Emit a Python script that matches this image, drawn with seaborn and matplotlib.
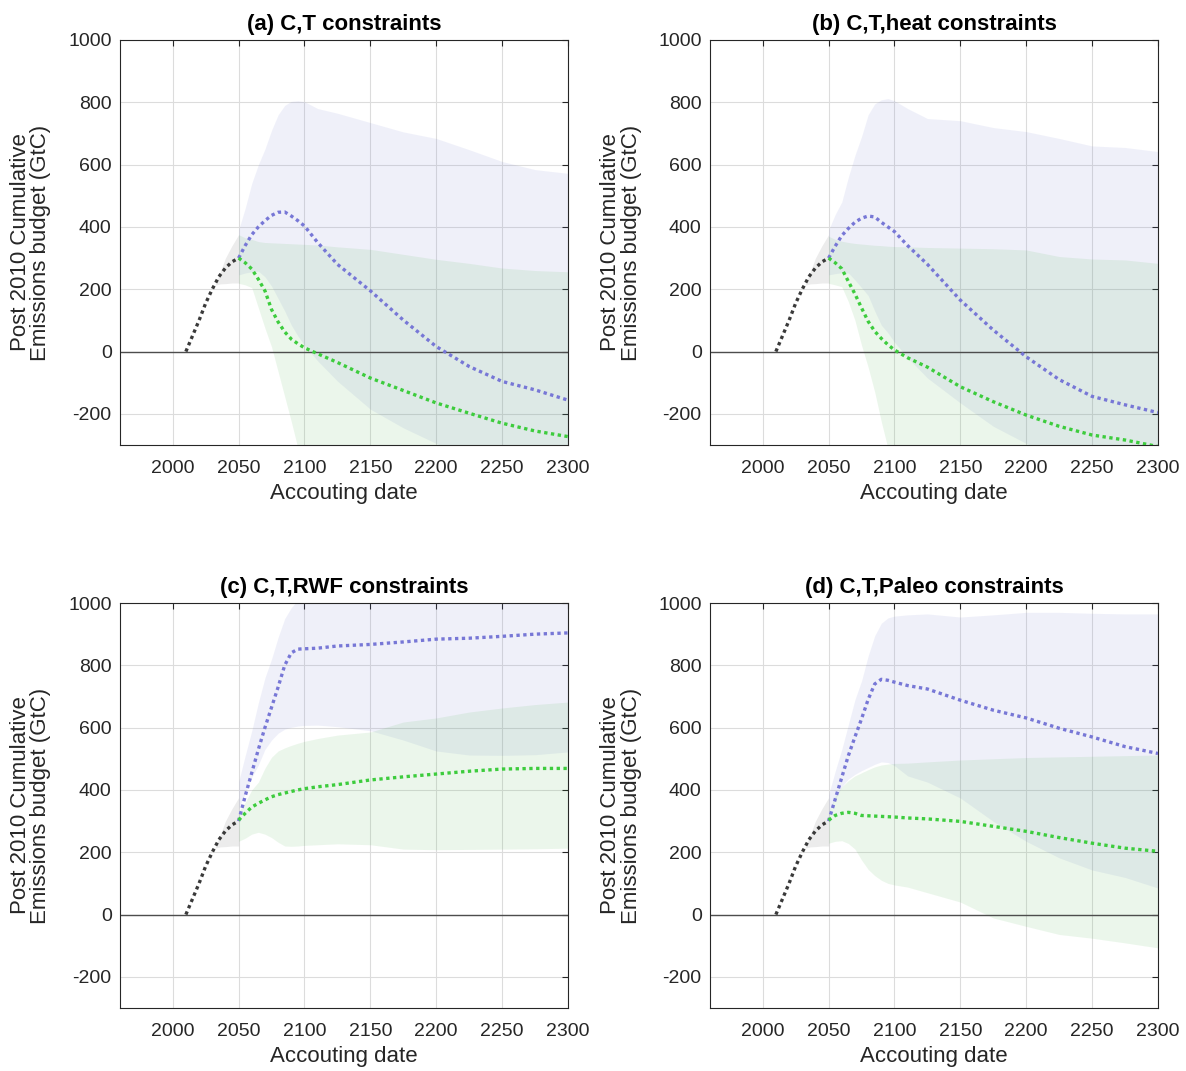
import numpy as np
import pandas as pd
import matplotlib
matplotlib.use("Agg")
import matplotlib.pyplot as plt
import seaborn as sns

# ---------------- data ----------------
hist_years = [2010, 2015, 2020, 2025, 2030, 2035, 2040, 2045, 2050]
hist_vals = [0, 50, 100, 155, 200, 240, 268, 288, 300]

gray_years = [2032, 2036, 2040, 2045, 2050]
gray_lo = [213, 217, 218, 220, 220]
gray_hi = [213, 255, 300, 340, 375]

years = [2050, 2055, 2060, 2065, 2070, 2075, 2080, 2085, 2090, 2095, 2100,
         2110, 2125, 2150, 2175, 2200, 2225, 2250, 2275, 2300]

titles = ["(a) C,T constraints", "(b) C,T,heat constraints",
          "(c) C,T,RWF constraints", "(d) C,T,Paleo constraints"]

# panel (a)
a_blue = [300, 340, 375, 400, 420, 437, 447, 448, 435, 420, 403, 350, 280, 195, 101, 16, -48, -96, -123, -156]
a_blue_hi = [390, 460, 540, 600, 650, 710, 760, 790, 803, 805, 802, 780, 765, 735, 705, 684, 648, 610, 584, 572]
a_blue_lo = [246, 252, 256, 258, 240, 210, 170, 130, 85, 50, 20, -30, -95, -185, -245, -295, -340, -380, -410, -440]
a_green = [300, 285, 265, 232, 195, 135, 95, 63, 40, 25, 12, -7, -35, -85, -125, -165, -198, -230, -255, -273]
a_green_hi = [375, 365, 360, 353, 350, 349, 348, 347, 346, 345, 344, 342, 336, 328, 312, 296, 283, 268, 260, 256]
a_green_lo = [219, 214, 205, 140, 75, 15, -65, -145, -225, -310, -370, -420, -450, -450, -450, -450, -450, -450, -450, -450]

# panel (b)
b_blue = [300, 338, 372, 395, 415, 428, 435, 432, 415, 400, 385, 340, 280, 165, 69, -17, -90, -144, -171, -196]
b_blue_hi = [390, 440, 480, 560, 630, 690, 760, 795, 808, 812, 805, 780, 748, 741, 719, 706, 684, 660, 655, 642]
b_blue_lo = [246, 250, 253, 252, 230, 205, 180, 130, 85, 60, 30, -20, -85, -165, -240, -295, -340, -380, -410, -440]
b_green = [300, 285, 266, 225, 185, 140, 97, 65, 42, 22, 5, -20, -50, -113, -161, -204, -240, -268, -284, -305]
b_green_hi = [370, 360, 354, 350, 347, 345, 343, 341, 340, 338, 337, 336, 334, 332, 330, 326, 305, 297, 294, 283]
b_green_lo = [219, 214, 208, 160, 100, 20, -50, -130, -225, -310, -370, -420, -450, -450, -450, -450, -450, -450, -450, -450]

# panel (c)
c_blue = [300, 380, 455, 530, 600, 665, 730, 800, 840, 852, 853, 855, 862, 867, 875, 884, 887, 893, 900, 904]
c_blue_hi = [426, 510, 590, 680, 760, 820, 890, 950, 985, 1010, 1030, 1060, 1070, 1080, 1080, 1080, 1080, 1080, 1080, 1080]
c_blue_lo = [340, 390, 440, 480, 530, 560, 582, 595, 601, 605, 607, 608, 603, 590, 560, 525, 512, 511, 513, 522]
c_green = [303, 325, 345, 357, 368, 378, 385, 390, 395, 400, 404, 410, 417, 432, 442, 451, 460, 467, 469, 469]
c_green_hi = [330, 360, 400, 425, 470, 505, 525, 535, 543, 550, 556, 565, 576, 586, 618, 631, 650, 663, 674, 682]
c_green_lo = [235, 245, 258, 264, 258, 247, 232, 220, 219, 220, 222, 224, 227, 224, 210, 208, 209, 210, 211, 213]

# panel (d)
d_blue = [300, 370, 440, 510, 570, 628, 690, 740, 755, 752, 746, 735, 724, 688, 656, 631, 598, 570, 539, 517]
d_blue_hi = [384, 460, 530, 610, 690, 750, 830, 895, 935, 952, 958, 962, 965, 955, 962, 970, 970, 967, 965, 965]
d_blue_lo = [330, 370, 410, 435, 450, 462, 472, 482, 490, 488, 478, 445, 425, 374, 299, 235, 182, 143, 119, 85]
d_green = [303, 318, 325, 328, 325, 318, 317, 316, 315, 314, 313, 310, 307, 299, 283, 267, 247, 229, 213, 203]
d_green_hi = [330, 380, 410, 430, 445, 455, 465, 474, 480, 483, 485, 486, 490, 496, 500, 504, 506, 508, 510, 512]
d_green_lo = [229, 235, 237, 228, 210, 175, 145, 125, 110, 100, 95, 88, 70, 40, -11, -38, -64, -76, -91, -107]

panels = [
    (a_blue, a_blue_lo, a_blue_hi, a_green, a_green_lo, a_green_hi),
    (b_blue, b_blue_lo, b_blue_hi, b_green, b_green_lo, b_green_hi),
    (c_blue, c_blue_lo, c_blue_hi, c_green, c_green_lo, c_green_hi),
    (d_blue, d_blue_lo, d_blue_hi, d_green, d_green_lo, d_green_hi),
]

xticks = [2000, 2050, 2100, 2150, 2200, 2250, 2300]
yticks = [-200, 0, 200, 400, 600, 800, 1000]

# ---------------- style ----------------
sns.set_theme(style="white")
plt.rcParams['font.family'] = ['Liberation Sans', 'DejaVu Sans']
plt.rcParams['axes.unicode_minus'] = False

BLUE = '#7777d6'
GREEN = '#3dcc3d'
BLACK = '#3a3a3a'
BLUE_FILL = '#6973cd'
GREEN_FILL = '#41af41'
DOT = (0, (1, 1.05))
LW = 2.4

fig = plt.figure(figsize=(11.86, 10.71), dpi=100)
W, H = 1186, 1071
boxes = [(120, 40, 568, 445), (710, 40, 1158, 445),
         (120, 603, 568, 1008), (710, 603, 1158, 1008)]

for i, (box, title, pdata) in enumerate(zip(boxes, titles, panels)):
    l, t, r, b = box
    ax = fig.add_axes([l / W, 1 - b / H, (r - l) / W, (b - t) / H])
    blue, blo, bhi, green, glo, ghi = pdata

    ax.fill_between(gray_years, gray_lo, gray_hi, color='#808080', alpha=0.15,
                    linewidth=0, zorder=1)
    ax.fill_between(years, blo, bhi, color=BLUE_FILL, alpha=0.1, linewidth=0, zorder=1)
    ax.fill_between(years, glo, ghi, color=GREEN_FILL, alpha=0.1, linewidth=0, zorder=1)

    ax.axhline(0, color='#4d4d4d', lw=1.0, zorder=2)

    df_h = pd.DataFrame({'year': hist_years, 'val': hist_vals})
    df_b = pd.DataFrame({'year': years, 'val': blue})
    df_g = pd.DataFrame({'year': years, 'val': green})
    sns.lineplot(data=df_b, x='year', y='val', ax=ax, color=BLUE, lw=LW,
                 linestyle=DOT, estimator=None, sort=False, zorder=3)
    sns.lineplot(data=df_g, x='year', y='val', ax=ax, color=GREEN, lw=LW,
                 linestyle=DOT, estimator=None, sort=False, zorder=3)
    sns.lineplot(data=df_h, x='year', y='val', ax=ax, color=BLACK, lw=LW,
                 linestyle=DOT, estimator=None, sort=False, zorder=3)

    ax.set_xlim(1960, 2300)
    ax.set_ylim(-300, 1000)
    ax.set_xticks(xticks)
    ax.set_yticks(yticks)
    ax.grid(True, color='#dcdcdc', lw=0.8)
    ax.set_axisbelow(True)
    ax.tick_params(axis='both', direction='in', length=4, width=0.8, top=True, right=True,
                   labelsize=14, colors='#262626')
    ax.tick_params(axis='x', pad=11)
    ax.tick_params(axis='y', pad=6)
    for s in ax.spines.values():
        s.set_color('#262626')
        s.set_linewidth(0.8)
    ax.set_title(title, fontsize=16, fontweight='bold', pad=7, color='black')
    ax.set_xlabel('Accouting date', fontsize=16, labelpad=4, color='#262626')
    ax.set_ylabel('Post 2010 Cumulative\nEmissions budget (GtC)', fontsize=16,
                  labelpad=12, color='#262626', linespacing=0.95)

fig.savefig('out.png', dpi=100)
